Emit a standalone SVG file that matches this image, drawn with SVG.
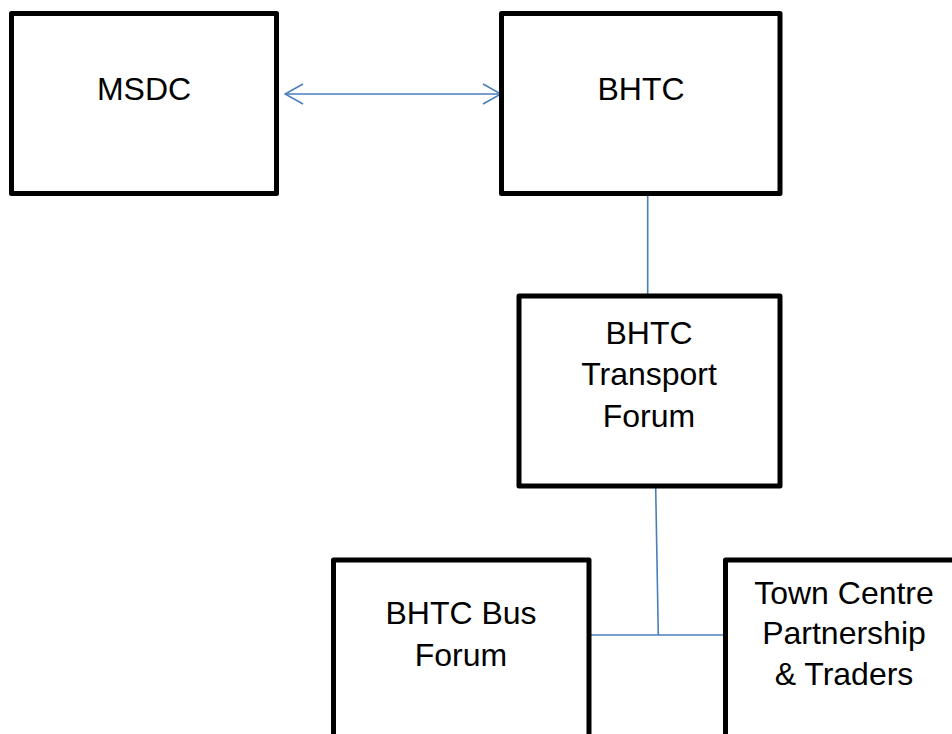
<svg xmlns="http://www.w3.org/2000/svg" width="952" height="734" viewBox="0 0 952 734">
<defs>
<style>
.box{fill:#fff;stroke:#000;stroke-width:5;stroke-linejoin:round}
.lbl{font-family:"Liberation Sans",Arial,sans-serif;font-size:32px;fill:#000;text-anchor:middle}
.con{stroke:#4a7ebb;stroke-width:1.6;fill:none}
</style>
<marker id="arr" viewBox="0 0 20 22" refX="19" refY="11" markerWidth="20" markerHeight="22" markerUnits="userSpaceOnUse" orient="auto-start-reverse">
<path d="M1,1 L19,11 L1,21" fill="none" stroke="#4a7ebb" stroke-width="1.6"/>
</marker>
</defs>
<rect width="952" height="734" fill="#fff"/>
<g id="connectors">
<line class="con" x1="285" y1="94" x2="501" y2="94" marker-start="url(#arr)" marker-end="url(#arr)"/>
<line class="con" x1="647.7" y1="196" x2="647.7" y2="294"/>
<line class="con" x1="655.7" y1="488" x2="658.3" y2="635"/>
<line class="con" x1="590" y1="635" x2="724" y2="635"/>
</g>
<g id="msdc">
<rect class="box" x="11.5" y="13.5" width="265" height="180"/>
<text class="lbl" x="144" y="100">MSDC</text>
</g>
<g id="bhtc">
<rect class="box" x="501.5" y="13.5" width="278.5" height="180"/>
<text class="lbl" x="641" y="100">BHTC</text>
</g>
<g id="transport-forum">
<rect class="box" x="519" y="296" width="261" height="190"/>
<text class="lbl" x="649" y="343.5">BHTC</text>
<text class="lbl" x="649" y="385">Transport</text>
<text class="lbl" x="649" y="426.5">Forum</text>
</g>
<g id="bus-forum">
<rect class="box" x="333.5" y="560" width="255.5" height="200"/>
<text class="lbl" x="461" y="624">BHTC Bus</text>
<text class="lbl" x="461" y="666">Forum</text>
</g>
<g id="town-centre">
<rect class="box" x="725.5" y="560" width="250" height="200"/>
<text class="lbl" x="844" y="603.5">Town Centre</text>
<text class="lbl" x="844" y="644">Partnership</text>
<text class="lbl" x="844" y="685">&amp; Traders</text>
</g>
</svg>
